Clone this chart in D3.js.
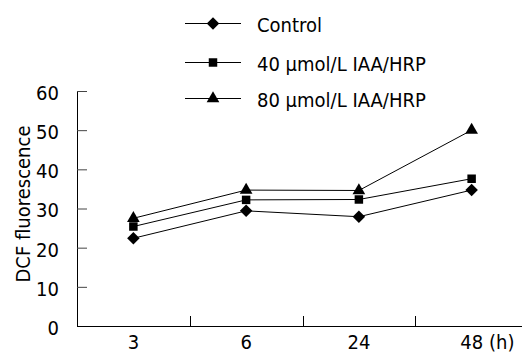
<!DOCTYPE html>
<html>
<head>
<meta charset="utf-8">
<script src="https://cdn.jsdelivr.net/npm/d3@7"></script>
<style>
  body { margin: 0; background: #fff; }
  svg text { font-family: "DejaVu Sans Condensed", "DejaVu Sans", sans-serif; font-stretch: condensed; fill: #000; }
</style>
</head>
<body>
<svg width="522" height="354"></svg>
<script>
const svg = d3.select("svg");

// data
const hours = ["3", "6", "24", "48"];
const control = [22.4, 29.4, 27.9, 34.7];
const iaa40 = [25.4, 32.2, 32.3, 37.6];
const iaa80 = [27.5, 34.7, 34.6, 50.0];
const yTicks = [0, 10, 20, 30, 40, 50, 60];
const seriesNames = ["Control", "40 μmol/L IAA/HRP", "80 μmol/L IAA/HRP"];

const series = [
  {name: seriesNames[0], values: control, shape: "diamond"},
  {name: seriesNames[1], values: iaa40, shape: "square"},
  {name: seriesNames[2], values: iaa80, shape: "triangle"}
];

const FS = 20;
const x = d3.scaleBand().domain(hours).range([77, 528]);
const y = d3.scaleLinear().domain([0, 60]).range([326, 91]);

function marker(shape) {
  if (shape == "diamond") return d3.symbol(d3.symbolSquare, 78)();
  if (shape == "square") return d3.symbol(d3.symbolSquare, 72)();
  return d3.symbol(d3.symbolTriangle, 70)();
}
function rot(shape) { return shape == "diamond" ? " rotate(45)" : ""; }

// y axis
const yAxis = svg.append("g").attr("transform", "translate(77,0)")
  .call(d3.axisLeft(y).tickValues(yTicks).tickSizeInner(-10).tickSizeOuter(0).tickPadding(18));
yAxis.select(".domain").attr("stroke", "#000");
yAxis.selectAll(".tick line").attr("stroke", "#444");
yAxis.selectAll(".tick text").attr("font-size", FS).attr("font-family", null).attr("dy", "0.42em");

// x axis
const xAxis = svg.append("g").attr("transform", "translate(0,326)")
  .call(d3.axisBottom(x).tickSize(0).tickPadding(9));
xAxis.select(".domain").attr("stroke", "#000").attr("d", "M77,0.5H522");
xAxis.selectAll(".tick text").attr("font-size", FS).attr("font-family", null);
xAxis.selectAll(".sep").data(hours.slice(1)).join("line")
  .attr("x1", d => Math.round(x(d)) + 0.5).attr("x2", d => Math.round(x(d)) + 0.5)
  .attr("y1", 0).attr("y2", -10).attr("stroke", "#000");
svg.append("text").attr("x", 489).attr("y", 349).attr("font-size", FS).text("(h)");

// y title
svg.append("text")
  .attr("transform", "translate(30,204) rotate(-90)")
  .attr("text-anchor", "middle").attr("font-size", FS)
  .text("DCF fluorescence");

// lines and markers
const line = d3.line().x((d, i) => x(hours[i]) + x.bandwidth() / 2).y(d => y(d));
const g = svg.append("g");
series.forEach(s => {
  g.append("path").attr("d", line(s.values)).attr("fill", "none").attr("stroke", "#000").attr("stroke-width", 1);
  g.selectAll(null).data(s.values).join("path")
    .attr("d", marker(s.shape))
    .attr("transform", (d, i) => "translate(" + (x(hours[i]) + x.bandwidth() / 2) + "," + y(d) + ")" + rot(s.shape))
    .attr("fill", "#000");
});

// legend
const legendY = [23, 62, 98];
const leg = svg.append("g");
series.forEach((s, i) => {
  const row = leg.append("g").attr("transform", "translate(0," + legendY[i] + ")");
  row.append("line").attr("x1", 185).attr("x2", 241).attr("y1", 0.5).attr("y2", 0.5).attr("stroke", "#000");
  row.append("path").attr("d", marker(s.shape)).attr("transform", "translate(213,0.5)" + rot(s.shape)).attr("fill", "#000");
  row.append("text").attr("x", 257).attr("y", 8.5).attr("font-size", FS).text(s.name);
});
</script>
</body>
</html>
